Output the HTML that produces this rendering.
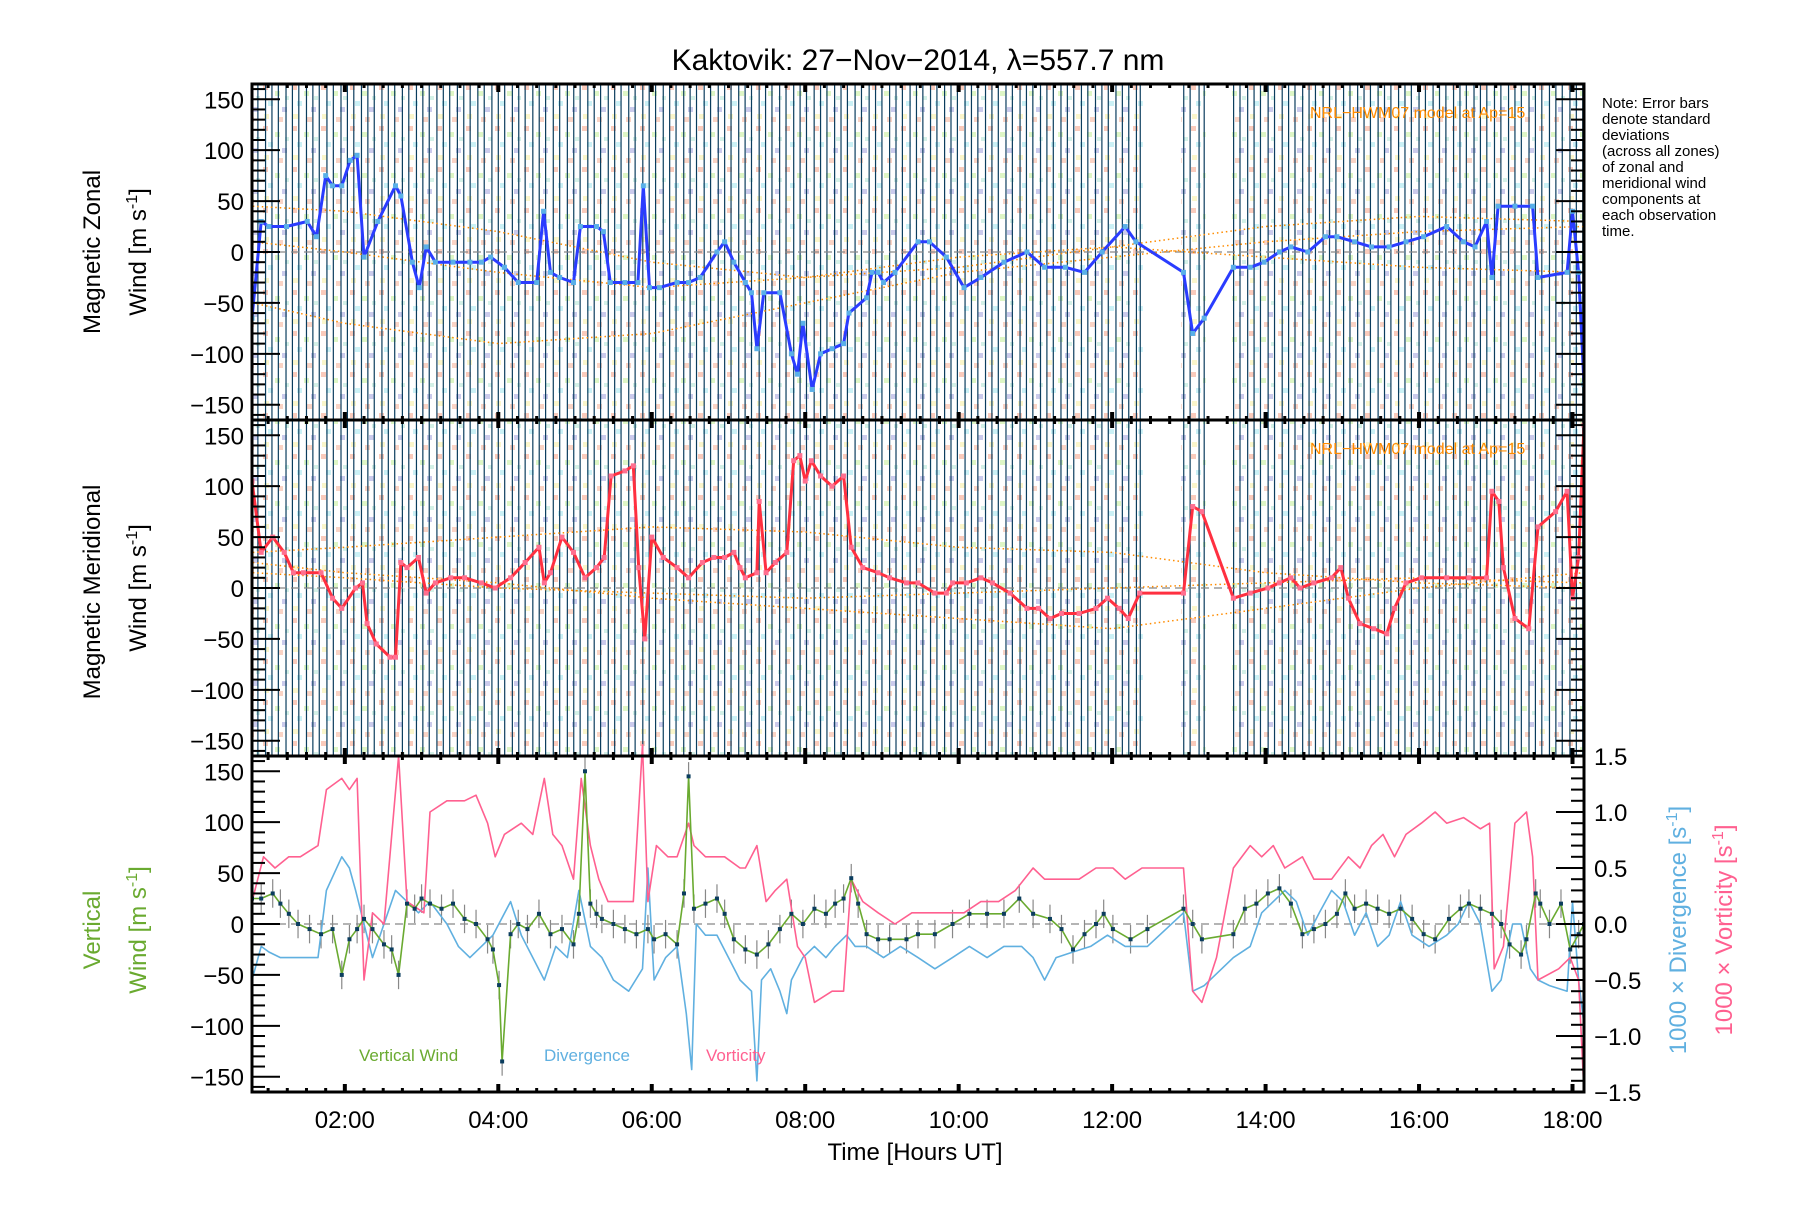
<!DOCTYPE html>
<html><head><meta charset="utf-8">
<style>
html,body{margin:0;padding:0;background:#fff;}
svg text{font-family:"Liberation Sans",sans-serif;}
</style></head>
<body>
<svg id="chart" xmlns="http://www.w3.org/2000/svg" width="1800" height="1200" viewBox="0 0 1800 1200">
<defs>
<pattern id="scatterPat" width="29" height="41" patternUnits="userSpaceOnUse">
<rect x="2" y="3" width="5" height="5" fill="#f7a890"/>
<rect x="14" y="9" width="5" height="5" fill="#c8f0a0"/>
<rect x="7" y="19" width="5" height="5" fill="#a8e8f0"/>
<rect x="21" y="25" width="5" height="5" fill="#a8a8e0"/>
<rect x="3" y="32" width="5" height="5" fill="#f8f0a8"/>
<rect x="17" y="35" width="5" height="5" fill="#f7b8a0"/>
<rect x="24" y="14" width="4" height="4" fill="#b8e8d8"/>
</pattern>
<clipPath id="clipAll"><rect x="252" y="84" width="1332" height="1008"/></clipPath>
</defs>
<g id="bg" clip-path="url(#clipAll)"></g>
<g id="layer" clip-path="url(#clipAll)"></g>
<g id="axes"></g>
<text x="918" y="70" font-size="30" text-anchor="middle">Kaktovik: 27−Nov−2014, λ=557.7 nm</text>
<g font-size="15">
<text x="1602" y="108">Note: Error bars</text>
<text x="1602" y="124">denote standard</text>
<text x="1602" y="140">deviations</text>
<text x="1602" y="156">(across all zones)</text>
<text x="1602" y="172">of zonal and</text>
<text x="1602" y="188">meridional wind</text>
<text x="1602" y="204">components at</text>
<text x="1602" y="220">each observation</text>
<text x="1602" y="236">time.</text>
</g>
<text x="915" y="1160" font-size="24" text-anchor="middle">Time [Hours UT]</text>
<g font-size="24" text-anchor="middle">
<text transform="translate(100,252) rotate(-90)">Magnetic Zonal</text>
<text transform="translate(146,252) rotate(-90)">Wind [m s<tspan font-size="16" dy="-9">-1</tspan><tspan dy="9">]</tspan></text>
</g>
<g font-size="24" text-anchor="middle">
<text transform="translate(100,592) rotate(-90)">Magnetic Meridional</text>
<text transform="translate(146,588) rotate(-90)">Wind [m s<tspan font-size="16" dy="-9">-1</tspan><tspan dy="9">]</tspan></text>
</g>
<g font-size="24" text-anchor="middle" fill="#6aaa30">
<text transform="translate(100,930) rotate(-90)">Vertical</text>
<text transform="translate(146,930) rotate(-90)">Wind [m s<tspan font-size="16" dy="-9">-1</tspan><tspan dy="9">]</tspan></text>
</g>
<text transform="translate(1686,930) rotate(-90)" font-size="24" text-anchor="middle" fill="#60b0e0">1000 × Divergence [s<tspan font-size="16" dy="-9">-1</tspan><tspan dy="9">]</tspan></text>
<text transform="translate(1732,930) rotate(-90)" font-size="24" text-anchor="middle" fill="#ff6090">1000 × Vorticity [s<tspan font-size="16" dy="-9">-1</tspan><tspan dy="9">]</tspan></text>
<text x="359" y="1061" font-size="17" fill="#6aaa30">Vertical Wind</text>
<text x="544" y="1061" font-size="17" fill="#60b0e0">Divergence</text>
<text x="706" y="1061" font-size="17" fill="#ff6090">Vorticity</text>
<text x="1310" y="118" font-size="16" fill="#ff8c00">NRL−HWM07 model at Ap=15</text>
<text x="1310" y="454" font-size="16" fill="#ff8c00">NRL−HWM07 model at Ap=15</text>
</svg>
<script>
// observation times (minutes UT)
const obsMinutes=[47,52,58,63,68,74,79,84,90,95,100,106,111,117,122,127,133,138,143,149,154,159,165,170,176,181,186,192,197,202,208,213,218,224,229,235,240,245,251,256,261,267,272,277,283,288,294,299,304,310,315,320,326,331,336,342,347,353,358,363,369,374,379,385,390,395,401,406,412,417,422,428,433,438,444,449,454,460,465,471,476,481,487,492,497,503,508,513,519,524,530,535,540,546,551,556,562,567,572,578,583,589,594,599,605,610,615,621,626,631,637,642,648,653,658,664,669,674,680,685,690,696,701,707,712,717,723,728,733,739,742,776,781,788,792,815,820,826,831,836,842,847,853,858,863,869,874,879,885,890,895,901,906,912,917,922,928,933,938,944,949,954,960,965,971,976,981,987,992,997,1003,1008,1013,1019,1024,1030,1035,1040,1046,1051,1056,1062,1067,1072,1078,1083,1088];
const dataSpans=[[0.79,12.40],[12.90,13.22],[13.55,18.15]];
const xTickLabels=["02:00","04:00","06:00","08:00","10:00","12:00","14:00","16:00","18:00"];
const xTickHours=[2,4,6,8,10,12,14,16,18];
const yTickValues=[-150,-100,-50,0,50,100,150];
const rTickValues=[-1.5,-1.0,-0.5,0.0,0.5,1.0,1.5];
const rTickLabels=["−1.5","−1.0","−0.5","0.0","0.5","1.0","1.5"];

const zonalT=[0.79,0.91,1.01,1.24,1.51,1.63,1.75,1.84,1.96,2.07,2.16,2.25,2.43,2.66,2.73,2.88,2.97,3.06,3.18,3.41,3.63,3.78,3.90,4.08,4.26,4.50,4.59,4.68,4.80,4.98,5.07,5.28,5.37,5.46,5.65,5.82,5.89,5.97,6.10,6.33,6.48,6.63,6.85,6.95,7.07,7.22,7.30,7.37,7.46,7.67,7.82,7.90,7.97,8.09,8.20,8.35,8.50,8.57,8.80,8.87,8.95,9.02,9.17,9.47,9.62,9.84,10.07,10.29,10.59,10.89,11.12,11.39,11.64,11.87,12.17,12.31,12.93,13.05,13.20,13.58,13.80,13.98,14.18,14.33,14.55,14.78,14.93,15.16,15.38,15.61,15.83,16.06,16.36,16.58,16.73,16.88,16.95,17.03,17.25,17.48,17.55,17.93,18.00,18.08,18.15];
const zonalV=[-65,30,25,25,30,15,75,65,65,90,95,-5,30,65,55,-10,-35,5,-10,-10,-10,-10,-5,-15,-30,-30,40,-20,-25,-30,25,25,20,-30,-30,-30,65,-35,-35,-30,-30,-25,0,10,-10,-30,-40,-95,-40,-40,-100,-120,-70,-135,-100,-95,-90,-60,-45,-20,-20,-30,-20,10,10,-5,-35,-25,-10,0,-15,-15,-20,0,25,10,-20,-80,-65,-15,-15,-10,0,5,0,15,15,10,5,5,10,15,25,10,5,30,-25,45,45,45,-25,-20,40,-20,-130];

const meridT=[0.79,0.91,1.06,1.21,1.33,1.46,1.69,1.84,1.96,2.14,2.23,2.29,2.41,2.59,2.66,2.73,2.81,2.96,3.06,3.18,3.38,3.56,3.78,3.96,4.16,4.35,4.53,4.60,4.68,4.83,4.98,5.13,5.28,5.38,5.47,5.65,5.76,5.83,5.91,6.00,6.15,6.33,6.48,6.66,6.81,6.95,7.07,7.15,7.22,7.37,7.40,7.49,7.61,7.76,7.85,7.93,8.00,8.08,8.20,8.35,8.50,8.60,8.75,8.95,9.10,9.32,9.47,9.69,9.84,9.92,10.10,10.29,10.44,10.67,10.89,11.04,11.19,11.34,11.57,11.79,11.94,12.09,12.21,12.36,12.93,13.05,13.17,13.58,13.80,14.03,14.18,14.33,14.45,14.63,14.86,14.98,15.08,15.23,15.41,15.58,15.68,15.83,16.03,16.36,16.65,16.88,16.95,17.04,17.10,17.25,17.43,17.55,17.78,17.93,18.00,18.08,18.15];
const meridV=[105,35,50,35,15,15,15,-10,-20,0,5,-35,-55,-68,-68,25,20,30,-5,5,10,10,5,0,10,25,40,5,15,50,35,10,20,30,110,115,120,20,-50,50,30,20,10,25,30,30,35,20,10,15,85,15,25,35,125,130,105,125,110,100,110,40,20,15,10,5,5,-5,-5,5,5,10,5,-5,-20,-20,-30,-25,-25,-20,-10,-20,-30,-5,-5,80,75,-10,-5,0,5,10,0,5,10,20,-10,-35,-40,-45,-20,5,10,10,10,10,95,85,20,-30,-40,60,75,95,-10,30,160];

const vertT=[0.79,0.91,1.06,1.16,1.27,1.39,1.54,1.69,1.84,1.96,2.06,2.16,2.25,2.36,2.51,2.61,2.70,2.81,2.91,3.00,3.11,3.26,3.41,3.56,3.71,3.86,3.93,4.01,4.05,4.16,4.26,4.38,4.53,4.68,4.83,4.98,5.05,5.13,5.20,5.28,5.35,5.50,5.65,5.80,5.95,6.03,6.18,6.33,6.42,6.48,6.55,6.70,6.85,6.95,7.07,7.22,7.37,7.52,7.67,7.82,7.97,8.12,8.27,8.39,8.50,8.60,8.69,8.80,8.95,9.10,9.32,9.47,9.69,9.92,10.14,10.37,10.59,10.79,10.97,11.19,11.34,11.49,11.64,11.79,11.89,12.01,12.24,12.46,12.93,13.05,13.17,13.58,13.73,13.88,14.03,14.18,14.33,14.48,14.63,14.78,14.93,15.04,15.16,15.31,15.46,15.61,15.76,15.91,16.06,16.21,16.39,16.54,16.65,16.80,16.95,17.07,17.18,17.33,17.40,17.52,17.58,17.70,17.85,17.97,18.08,18.15];
const vertV=[25,25,30,20,10,0,-5,-10,-5,-50,-15,-5,5,-5,-20,-25,-50,20,15,25,20,15,20,5,0,-15,-25,-60,-135,-10,0,-5,10,-10,-5,-20,10,150,20,10,5,0,-5,-10,-5,-15,-10,-20,30,145,15,20,25,10,-15,-25,-30,-20,-5,10,0,15,10,20,25,45,20,-10,-15,-15,-15,-10,-10,0,10,10,10,25,10,5,-5,-25,-10,0,10,-5,-15,-5,15,0,-15,-10,15,20,30,35,20,-10,-5,0,10,30,15,20,15,10,15,5,-10,-15,5,15,20,15,10,0,-20,-30,-15,30,20,0,20,-25,-10,0];

const divT=[0.79,0.91,1.01,1.16,1.39,1.65,1.76,1.96,2.06,2.14,2.25,2.36,2.51,2.66,2.81,2.96,3.11,3.33,3.48,3.63,3.78,3.93,4.16,4.30,4.45,4.60,4.75,4.90,5.05,5.20,5.35,5.50,5.70,5.88,5.95,6.03,6.18,6.33,6.45,6.52,6.58,6.70,6.85,7.00,7.15,7.30,7.37,7.43,7.55,7.67,7.76,7.82,7.97,8.12,8.27,8.39,8.54,8.65,8.80,9.02,9.24,9.47,9.69,9.92,10.14,10.37,10.59,10.82,10.97,11.12,11.27,11.49,11.72,11.94,12.17,12.46,12.93,13.05,13.20,13.58,13.80,13.95,14.10,14.25,14.40,14.55,14.70,14.86,15.01,15.16,15.31,15.46,15.61,15.76,15.91,16.13,16.36,16.51,16.65,16.80,16.95,17.07,17.22,17.33,17.45,17.55,17.70,17.93,18.00,18.08,18.15];
const divV=[-0.5,-0.2,-0.25,-0.3,-0.3,-0.3,0.3,0.6,0.5,0.3,0.0,-0.3,0.0,0.3,0.2,0.1,0.2,0.0,-0.2,-0.3,-0.2,-0.1,0.2,-0.1,-0.3,-0.5,-0.2,-0.3,0.3,-0.2,-0.3,-0.5,-0.6,-0.4,0.5,-0.5,-0.3,-0.2,-0.8,-1.3,0.0,-0.1,-0.1,-0.3,-0.5,-0.6,-1.4,-0.5,-0.4,-0.6,-0.8,-0.5,-0.3,-0.2,-0.3,-0.2,-0.1,-0.2,-0.2,-0.3,-0.2,-0.3,-0.4,-0.3,-0.2,-0.3,-0.2,-0.2,-0.3,-0.5,-0.3,-0.25,-0.2,-0.1,-0.2,-0.2,0.1,-0.6,-0.55,-0.3,-0.2,0.1,0.2,0.3,0.2,-0.1,0.1,0.3,0.2,-0.1,0.1,-0.2,-0.1,0.2,-0.1,-0.2,-0.1,0.0,0.2,0.0,-0.6,-0.5,0.0,0.0,-0.4,-0.5,-0.55,-0.6,0.2,-0.5,-0.9];

const vortT=[0.79,0.94,1.09,1.27,1.42,1.65,1.76,1.96,2.06,2.16,2.25,2.36,2.51,2.70,2.81,3.03,3.11,3.33,3.56,3.71,3.86,3.96,4.08,4.30,4.45,4.60,4.71,4.83,4.98,5.08,5.20,5.31,5.43,5.58,5.76,5.88,5.95,6.06,6.21,6.33,6.48,6.55,6.70,6.85,6.95,7.15,7.22,7.37,7.49,7.61,7.76,7.90,8.00,8.12,8.35,8.50,8.60,8.75,8.95,9.17,9.39,9.62,9.84,10.07,10.29,10.52,10.74,10.97,11.12,11.34,11.57,11.79,12.01,12.17,12.39,12.93,13.05,13.17,13.36,13.58,13.80,13.95,14.10,14.25,14.48,14.63,14.86,15.08,15.23,15.38,15.53,15.68,15.83,16.03,16.21,16.36,16.58,16.80,16.92,16.98,17.10,17.25,17.40,17.48,17.55,17.82,17.97,18.08,18.15];
const vortV=[0.2,0.6,0.5,0.6,0.6,0.7,1.2,1.3,1.2,1.3,-0.5,0.1,0.0,1.5,0.2,0.1,1.0,1.1,1.1,1.15,0.9,0.6,0.8,0.9,0.8,1.3,0.8,0.7,0.4,1.3,0.7,0.4,0.2,0.2,0.2,1.6,0.2,0.7,0.6,0.6,0.9,0.7,0.6,0.6,0.6,0.5,0.5,0.7,0.2,0.3,0.4,-0.2,-0.3,-0.7,-0.6,-0.6,0.4,0.2,0.1,0.0,0.1,0.1,0.1,0.1,0.2,0.2,0.3,0.5,0.4,0.4,0.4,0.5,0.5,0.4,0.5,0.5,-0.6,-0.7,-0.3,0.5,0.7,0.6,0.7,0.5,0.6,0.4,0.4,0.6,0.5,0.7,0.8,0.6,0.8,0.9,1.0,0.9,0.95,0.85,0.9,-0.4,-0.2,0.9,1.0,0.6,-0.5,-0.4,-0.3,-0.5,-1.5];

// HWM07 model curves (hours, m/s)
const modelT=[0.8,2,4,6,8,10,12,14,16,18.15];
const modelZ1=[10,0,-20,-35,-25,-5,5,-5,-15,-20];
const modelZ2=[-50,-70,-90,-80,-50,-20,-5,10,20,25];
const modelZ3=[45,40,20,-10,-25,-15,5,25,35,30];
const modelM1=[25,15,5,-10,-20,-30,-40,-20,0,15];
const modelM2=[35,40,50,60,55,40,35,15,5,0];
const modelM3=[15,10,0,-5,-10,-5,0,5,10,5];

const X0=252,X1=1584,T0=0.79,T1=18.15;
const panels=[{top:84},{top:420},{top:756}];
const PH=336;
function xs(h){return X0+(h-T0)/(T1-T0)*(X1-X0);}
function ys(p,v){return panels[p].top+PH/2-v/165*(PH/2);}
function yr(v){return panels[2].top+PH/2-v/1.5*(PH/2);}
const NS="http://www.w3.org/2000/svg";
function mk(tag,attrs,parent){const e=document.createElementNS(NS,tag);for(const k in attrs)e.setAttribute(k,attrs[k]);parent.appendChild(e);return e;}
const bg=document.getElementById('bg'),layer=document.getElementById('layer'),axes=document.getElementById('axes');

dataSpans.forEach(s=>{
  const r=mk('rect',{x:xs(s[0]),y:84,width:xs(s[1])-xs(s[0]),height:672,fill:'url(#scatterPat)',opacity:0.6},bg);
  
  
});
obsMinutes.forEach(m=>{
  const x=xs(m/60);
  const l=mk('line',{x1:x,x2:x,y1:84,y2:756,stroke:'#0b3d5e','stroke-width':1.2},layer);
  
  
});
[0,1,2].forEach(p=>{
  const l=mk('line',{x1:X0,x2:X1,y1:ys(p,0),y2:ys(p,0),stroke:'#888','stroke-dasharray':'8,5','stroke-width':1.2},layer);
  
  
});
function pathD(T,V,fy){return T.map((t,i)=>(i?'L':'M')+xs(t).toFixed(1)+','+fy(V[i]).toFixed(1)).join('');}
[[0,modelZ1],[0,modelZ2],[0,modelZ3],[1,modelM1],[1,modelM2],[1,modelM3]].forEach(a=>{
  const p=mk('path',{d:pathD(modelT,a[1],v=>ys(a[0],v)),fill:'none',stroke:'#ff8c00','stroke-width':1.5,'stroke-dasharray':'1.5,3'},layer);
  
  
});
function series(T,V,fy,color,w,mcolor,msize,name){
  const p=mk('path',{d:pathD(T,V,fy),fill:'none',stroke:color,'stroke-width':w,'stroke-linejoin':'round'},layer);
  
  
  if(mcolor){T.forEach((t,i)=>{
    const r=mk('rect',{x:xs(t)-msize/2,y:fy(V[i])-msize/2,width:msize,height:msize,fill:mcolor},layer);
    
    
  });}
}
vertT.forEach((t,i)=>{
  const l=mk('line',{x1:xs(t),x2:xs(t),y1:ys(2,vertV[i]+14),y2:ys(2,vertV[i]-14),stroke:'#888','stroke-width':1.2},layer);
  
  
});
series(divT,divV,yr,'#60b0e0',1.6,null,0,'divergence');
series(vortT,vortV,yr,'#ff6090',1.6,null,0,'vorticity');
series(vertT,vertV,v=>ys(2,v),'#6aaa30',1.6,'#0b3d5e',4,'vertical-wind');
series(zonalT,zonalV,v=>ys(0,v),'#2a3cff',3,'#5ab0e8',5,'zonal-wind');
series(meridT,meridV,v=>ys(1,v),'#ff3040',3,'#ff7090',5,'meridional-wind');

[0,1,2].forEach(p=>{
  const top=panels[p].top;
  const f=mk('rect',{x:X0,y:top,width:X1-X0,height:PH,fill:'none',stroke:'#000','stroke-width':3},axes);
  
  
  for(let v=-160;v<=160;v+=10){
    const y=ys(p,v);const major=(v%50===0);
    const len=major?28:13;
    mk('line',{x1:X0,x2:X0+len,y1:y,y2:y,stroke:'#000','stroke-width':2},axes);
    if(p<2)mk('line',{x1:X1,x2:X1-len,y1:y,y2:y,stroke:'#000','stroke-width':2},axes);
  }
  yTickValues.forEach(v=>{
    const t=mk('text',{x:X0-8,y:ys(p,v)+9,'font-size':24,'text-anchor':'end'},axes);
    t.textContent=(v<0?'−':'')+Math.abs(v);
    
    
  });
  for(let m=60;m<=1085;m+=15){
    const x=xs(m/60);const major=(m%120===0);
    const len=major?8:4;
    mk('line',{x1:x,x2:x,y1:top+PH,y2:top+PH-len,stroke:'#000','stroke-width':major?4:3},axes);
    mk('line',{x1:x,x2:x,y1:top,y2:top+len,stroke:'#000','stroke-width':major?4:3},axes);
  }
});
for(let v=-1.5;v<=1.51;v+=0.1){
  const y=yr(v);const major=Math.abs(Math.round(v*10)%5)===0;
  mk('line',{x1:X1,x2:X1-(major?28:13),y1:y,y2:y,stroke:'#000','stroke-width':2},axes);
}
rTickValues.forEach((v,i)=>{
  const t=mk('text',{x:X1+10,y:yr(v)+9,'font-size':24},axes);
  t.textContent=rTickLabels[i];
  
  
});
xTickHours.forEach((h,i)=>{
  const t=mk('text',{x:xs(h),y:1128,'font-size':24,'text-anchor':'middle'},axes);
  t.textContent=xTickLabels[i];
  
  
});
</script>
</body></html>
